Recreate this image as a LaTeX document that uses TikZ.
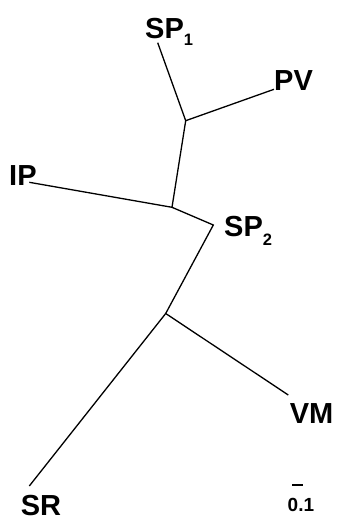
\documentclass[tikz,border=0pt]{standalone}
\usepackage{fontspec}
\setmainfont{Liberation Sans}
% subscript digit set below the baseline by #1
\newcommand{\leafsub}[2]{\raisebox{-#1}{\fontsize{16.5}{16.5}\selectfont #2}}
\begin{document}
\begin{tikzpicture}[x=1pt,y=-1pt,
  branch/.style={line width=1.3pt,line join=miter},
  taxon/.style={inner sep=0pt,anchor=base west,font=\fontsize{29}{29}\selectfont\bfseries},
  scalelabel/.style={inner sep=0pt,anchor=base west,font=\fontsize{19}{19}\selectfont\bfseries}]
\useasboundingbox (0,0) rectangle (337,519);
% tree vertices
\coordinate (nA) at (185.7,120.7);
\coordinate (nB) at (172.0,207.3);
\coordinate (nK) at (213.3,225.0);
\coordinate (nC) at (165.7,313.5);
% leaf tips
\coordinate (tSP1) at (157.7,42.7);
\coordinate (tPV) at (274.0,89.3);
\coordinate (tIP) at (29.3,182.3);
\coordinate (tVM) at (288.3,395.0);
\coordinate (tSR) at (29.3,486.0);
% branches
\draw[branch] (tSP1) -- (nA) -- (tPV);
\draw[branch] (nA) -- (nB) -- (tIP);
\draw[branch] (nB) -- (nK) -- (nC);
\draw[branch] (tVM) -- (nC) -- (tSR);
% taxon labels
\node[taxon] (lSP1) at (145,38.3) {SP\leafsub{7pt}{1}};
\node[taxon] (lPV) at (274,90) {PV};
\node[taxon] (lIP) at (9,185) {IP};
\node[taxon] (lSP2) at (224,236.7) {SP\leafsub{8.5pt}{2}};
\node[taxon] (lVM) at (289.7,423.3) {VM};
\node[taxon] (lSR) at (20.7,515.5) {SR};
% scale bar
\coordinate (sbL) at (292,485);
\coordinate (sbR) at (303,485);
\draw[line width=1.3pt] (sbL) -- (sbR);
\node[scalelabel] (lScale) at (287.5,511.3) {0.1};
\end{tikzpicture}
\end{document}
